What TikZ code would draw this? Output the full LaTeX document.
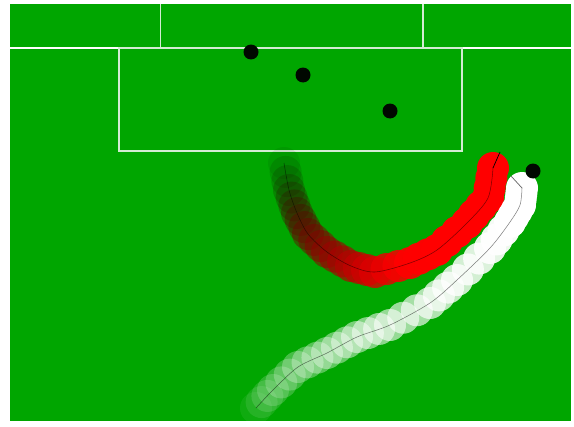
\documentclass[tikz,border=0pt]{standalone}
\usepackage{tikz}
\usepackage{xcolor}
\definecolor{Pitch}{HTML}{00A600}
\definecolor{PitchLine}{HTML}{D2ECD2}
\definecolor{Dot}{HTML}{000800}

\tikzset{
  track/.style={draw=black, line width=0.3pt, draw opacity=0.5},
  heading/.style={draw=black, line width=0.4pt},
  player/.style={circle, fill=Dot, inner sep=0pt, minimum width=0.28cm, minimum height=0.3cm},
  pitchline/.style={draw=PitchLine, line width=0.6pt}
}

\begin{document}
\begin{tikzpicture}[x=0.02cm, y=-0.02cm]
  \useasboundingbox (0,0) rectangle (574,426);
  % Field
  \fill[Pitch] (10,4) rectangle (571,421);
  \draw[pitchline, draw=white] (10,48) -- (571,48);
  \foreach \x in {160.5, 423}{
    \draw[pitchline] (\x,4) -- (\x,48);
  }
  % Penalty box
  \draw[pitchline] (119,48) rectangle (462,151);

  % Red trail
  \foreach \px/\py [count=\i, remember=\px as \qx (initially 284), remember=\py as \qy (initially 163)]
    in {289/190, 297/213, 308/234, 327/252, 351/266, 375/272, 410/263, 437/250, 467/223, 488/198, 493/168}{
    \foreach \t in {0, 0.33, 0.67}{
      \pgfmathsetmacro\tf{(\i-1+\t)/11}
      \pgfmathsetmacro\cx{\qx+\t*(\px-\qx)}
      \pgfmathsetmacro\cy{\qy+\t*(\py-\qy)}
      \pgfmathtruncatemacro\pc{min(100, 160*\tf)}
      \pgfmathsetmacro\op{min(1, 0.07+1.3*\tf)}
      \fill[red!\pc!black, fill opacity=\op] (\cx,\cy) circle[radius=0.32cm];
    }
  }
  \coordinate (redend) at (493,168);
  \fill[red] (redend) circle[radius=0.32cm];
  \draw[track] plot[smooth] coordinates {(284,163) (289,190) (297,213) (308,234) (327,252)
    (351,266) (375,272) (410,263) (437,250) (467,223) (488,198) (493,168)};

  % White trail
  \foreach \px/\py [count=\i, remember=\px as \qx (initially 256), remember=\py as \qy (initially 408)]
    in {273/390, 298/367, 327/353, 357/337, 390/325, 430/303, 457/280, 490/248, 510/222, 520/205, 522/188}{
    \foreach \t in {0, 0.33, 0.67}{
      \pgfmathsetmacro\tf{(\i-1+\t)/11}
      \pgfmathsetmacro\cx{\qx+\t*(\px-\qx)}
      \pgfmathsetmacro\cy{\qy+\t*(\py-\qy)}
      \pgfmathsetmacro\op{min(1, 0.06+1.15*\tf)}
      \fill[white, fill opacity=\op] (\cx,\cy) circle[radius=0.32cm];
    }
  }
  \coordinate (whiteend) at (522,188);
  \fill[white] (whiteend) circle[radius=0.32cm];
  \draw[track] plot[smooth] coordinates {(256,408) (273,390) (298,367) (327,353) (357,337)
    (390,325) (430,303) (457,280) (490,248) (510,222) (520,205) (522,188)};

  % Headings
  \draw[heading] (redend) -- ++(7,-16);
  \draw[heading, draw=black!60] (whiteend) -- ++(-11,-12);

  % Players
  \foreach \n/\x/\y in {p1/251/52, p2/303/75, p3/390/111, p4/533/171}{
    \node[player] (\n) at (\x,\y) {};
  }
\end{tikzpicture}
\end{document}
